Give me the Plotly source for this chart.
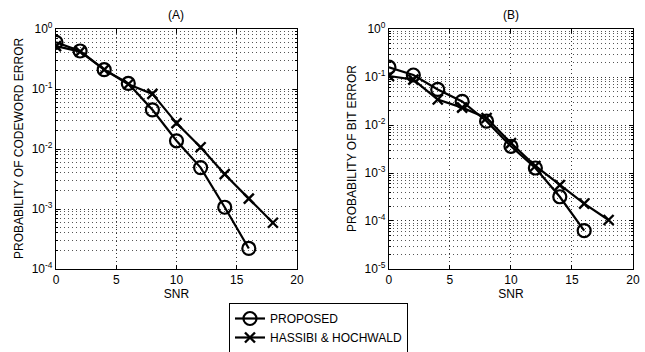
import plotly.graph_objects as go

snr_prop = [0, 2, 4, 6, 8, 10, 12, 14, 16]
snr_hh = [0, 2, 4, 6, 8, 10, 12, 14, 16, 18]

cw_proposed = [0.60, 0.43, 0.21, 0.124, 0.045, 0.0137, 0.0049, 0.00107, 0.00022]
cw_hassibi = [0.52, 0.42, 0.21, 0.12, 0.083, 0.027, 0.0107, 0.0038, 0.00149, 0.00059]

bit_proposed = [0.16, 0.11, 0.055, 0.031, 0.012, 0.0036, 0.00127, 0.00032, 0.000063]
bit_hassibi = [0.105, 0.088, 0.034, 0.023, 0.014, 0.0042, 0.0014, 0.00056, 0.00023, 0.000105]

FONT = "Liberation Sans, Arial, sans-serif"
BLACK = "black"

fig = go.Figure()

circ = dict(symbol="circle-open", size=13, line=dict(width=2.2, color=BLACK), color=BLACK)
xm = dict(symbol="x-thin", size=10, line=dict(width=2.4, color=BLACK), color=BLACK)
ln = dict(color=BLACK, width=2.2)

fig.add_trace(go.Scatter(x=snr_prop, y=cw_proposed, mode="lines+markers", name="PROPOSED",
                         line=ln, marker=circ, xaxis="x", yaxis="y", showlegend=True))
fig.add_trace(go.Scatter(x=snr_hh, y=cw_hassibi, mode="lines+markers", name="HASSIBI &amp; HOCHWALD",
                         line=ln, marker=xm, xaxis="x", yaxis="y", showlegend=True))
fig.add_trace(go.Scatter(x=snr_prop, y=bit_proposed, mode="lines+markers", name="PROPOSED",
                         line=ln, marker=circ, xaxis="x2", yaxis="y2", showlegend=False))
fig.add_trace(go.Scatter(x=snr_hh, y=bit_hassibi, mode="lines+markers", name="HASSIBI &amp; HOCHWALD",
                         line=ln, marker=xm, xaxis="x2", yaxis="y2", showlegend=False))


def minor_vals(lo, hi):
    vals = []
    for e in range(lo, hi):
        for m in range(2, 10):
            vals.append(m * 10 ** e)
    return vals


GRID_DASH = "1px,3px"


def yax(lo, domain_x_anchor):
    exps = list(range(lo, 1))
    return dict(
        type="log", range=[lo, 0], domain=[0.2358, 0.9176], anchor=domain_x_anchor,
        automargin=False,
        tickvals=[10 ** e for e in exps],
        ticktext=["10<sup>%d</sup>" % e for e in exps],
        ticks="inside", ticklen=4, tickcolor=BLACK, tickwidth=1,
        showline=True, linecolor=BLACK, linewidth=1.2, mirror="ticks",
        showgrid=True, gridcolor="#333", griddash=GRID_DASH, gridwidth=1,
        minor=dict(tickvals=minor_vals(lo, 0), showgrid=True, gridcolor="#555",
                   griddash=GRID_DASH, gridwidth=1, ticks="inside", ticklen=2, tickcolor=BLACK),
        tickfont=dict(family=FONT, size=12, color=BLACK),
        zeroline=False,
    )


def xax(domain, yanchor):
    return dict(
        range=[0, 20], domain=domain, anchor=yanchor, automargin=False,
        tickvals=[0, 5, 10, 15, 20], ticks="inside", ticklen=4, tickcolor=BLACK,
        showline=True, linecolor=BLACK, linewidth=1.2, mirror="ticks",
        showgrid=True, gridcolor="#333", griddash=GRID_DASH, gridwidth=1,
        tickfont=dict(family=FONT, size=12, color=BLACK), zeroline=False,
        title=dict(text="SNR", font=dict(family=FONT, size=12, color=BLACK), standoff=2),
    )


fig.update_layout(
    width=645, height=352,
    margin=dict(l=0, r=0, t=0, b=0, autoexpand=False),
    paper_bgcolor="white", plot_bgcolor="white",
    xaxis=xax([0.0868, 0.4605], "y"),
    yaxis=yax(-4, "x"),
    xaxis2=xax([0.603, 0.9814], "y2"),
    yaxis2=yax(-5, "x2"),
    font=dict(family=FONT, size=12, color=BLACK),
    legend=dict(x=0.355, y=1 - 303 / 352, xanchor="left", yanchor="top",
                bordercolor=BLACK, borderwidth=1, bgcolor="white",
                font=dict(family=FONT, size=12, color=BLACK),
                tracegroupgap=0),
    annotations=[
        dict(text="(A)", x=0.2736, y=1 - 15 / 352, xref="paper", yref="paper",
             xanchor="center", yanchor="middle",
             showarrow=False, font=dict(family=FONT, size=12, color=BLACK)),
        dict(text="(B)", x=0.792, y=1 - 15 / 352, xref="paper", yref="paper",
             xanchor="center", yanchor="middle",
             showarrow=False, font=dict(family=FONT, size=12, color=BLACK)),
        dict(text="PROBABILITY OF CODEWORD ERROR", x=19 / 645, y=0.5767, xref="paper", yref="paper",
             xanchor="center", yanchor="middle",
             textangle=-90, showarrow=False, font=dict(family=FONT, size=12, color=BLACK)),
        dict(text="PROBABILITY OF BIT ERROR", x=352 / 645, y=0.5767, xref="paper", yref="paper",
             xanchor="center", yanchor="middle",
             textangle=-90, showarrow=False, font=dict(family=FONT, size=12, color=BLACK)),
    ],
)

fig.write_html("out.html")
